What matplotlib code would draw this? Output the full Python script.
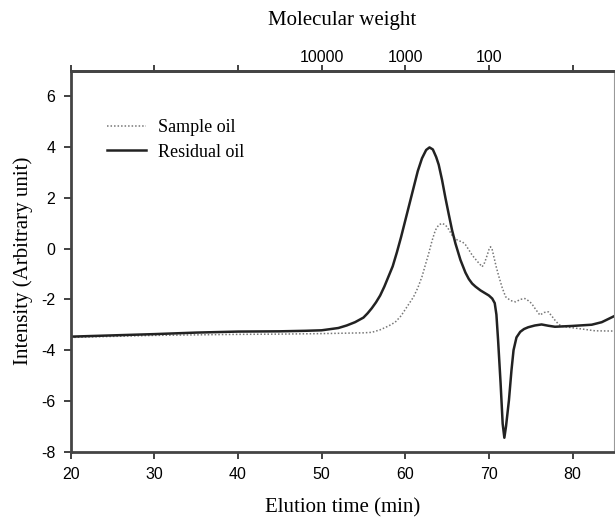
import numpy as np
import matplotlib
matplotlib.use('Agg')
import matplotlib.pyplot as plt

# elution time (min) and intensity
res_t = [20, 25, 30, 35, 40, 45, 48, 50, 52, 53, 54, 55, 55.5, 56, 56.5, 57,
         57.5, 58, 58.5, 59, 59.5, 60, 60.5, 61, 61.5, 62, 62.5, 62.9, 63.3,
         63.7, 64.0, 64.4, 64.8, 65.2, 65.6, 66.0, 66.6, 67.2, 67.6, 68.0, 68.4,
         69.0, 69.6, 70.0, 70.4, 70.7, 70.9, 71.1, 71.4, 71.65, 71.85, 72.05,
         72.4, 72.7, 72.95, 73.3, 73.75, 74.2, 74.7, 75.5, 76.3, 77.1, 77.9,
         79.9, 82.3, 83.5, 85]
res_v = [-3.47, -3.42, -3.37, -3.31, -3.27, -3.26, -3.24, -3.22, -3.13, -3.03,
         -2.9, -2.72, -2.55, -2.35, -2.12, -1.85, -1.5, -1.1, -0.7, -0.15, 0.45,
         1.1, 1.75, 2.4, 3.05, 3.55, 3.88, 3.98, 3.9, 3.6, 3.3, 2.7, 2.0, 1.35,
         0.72, 0.2, -0.45, -0.95, -1.2, -1.38, -1.5, -1.65, -1.77, -1.85, -1.97,
         -2.15, -2.6, -3.6, -5.3, -6.9, -7.45, -7.0, -5.97, -4.8, -4.0, -3.5,
         -3.28, -3.17, -3.1, -3.03, -2.99, -3.04, -3.08, -3.05, -3.0, -2.9, -2.66]

smp_t = [20, 25, 30, 35, 40, 45, 50, 55, 56, 57, 58, 58.8, 59.5, 60.2, 61.0,
         61.5, 62.0, 62.4, 62.8, 63.2, 63.6, 64.0, 64.4, 64.8, 65.2, 65.6, 66.0,
         66.4, 66.8, 67.2, 67.6, 68.0, 68.6, 69.2, 69.5, 69.8, 70.0, 70.2, 70.4,
         70.6, 70.9, 71.2, 71.6, 72.0, 72.6, 73.2, 73.8, 74.3, 74.7, 75.1, 75.6,
         76.1, 76.6, 77.1, 77.5, 77.9, 78.3, 78.7, 79.5, 80.7, 82.7, 85]
smp_v = [-3.5, -3.46, -3.42, -3.4, -3.38, -3.37, -3.35, -3.32, -3.3, -3.2,
         -3.05, -2.9, -2.65, -2.3, -1.9, -1.55, -1.11, -0.65, -0.2, 0.3, 0.72,
         0.93, 0.99, 0.93, 0.75, 0.52, 0.38, 0.3, 0.27, 0.15, -0.05, -0.26,
         -0.5, -0.72, -0.55, -0.26, -0.05, 0.07, -0.05, -0.33, -0.75, -1.11,
         -1.55, -1.9, -2.05, -2.1, -2.0, -1.97, -2.05, -2.16, -2.4, -2.62,
         -2.52, -2.49, -2.65, -2.82, -2.97, -3.06, -3.1, -3.15, -3.24, -3.25]

x_ticks = [20, 30, 40, 50, 60, 70, 80]
y_ticks = [-8, -6, -4, -2, 0, 2, 4, 6]
mw_labels = ['', '', '', '10000', '1000', '100', '']

serif = 'Liberation Serif'
sans = 'Liberation Sans'

fig = plt.figure(figsize=(6.15, 5.23), dpi=100)
ax = fig.add_axes([0.115, 0.1363, 0.8839, 0.7285])

ax.plot(smp_t, smp_v, color='#777777', lw=1.1, ls=(0, (1, 1.3)), label='Sample oil')
ax.plot(res_t, res_v, color='#222222', lw=1.8, label='Residual oil')

ax.set_xlim(20, 85)
ax.set_ylim(-8, 7)
ax.set_xticks(x_ticks)
ax.set_yticks(y_ticks)
ax.set_xticklabels([str(v) for v in x_ticks], fontfamily=sans, fontsize=11.5)
ax.set_yticklabels([str(v) for v in y_ticks], fontfamily=sans, fontsize=11.5)
ax.tick_params(direction='out', length=5, width=1.3, color='#333333', pad=6)

for side in ['left', 'bottom']:
    ax.spines[side].set_linewidth(2)
    ax.spines[side].set_color('#444444')
ax.spines['right'].set_linewidth(0.8)
ax.spines['right'].set_color('#999999')
ax.spines['top'].set_linewidth(2)
ax.spines['top'].set_color('#444444')

ax.set_xlabel('Elution time (min)', fontfamily=serif, fontsize=15, labelpad=12)
ax.set_ylabel('Intensity (Arbitrary unit)', fontfamily=serif, fontsize=15, labelpad=6)

ax2 = ax.twiny()
ax2.set_xlim(20, 85)
ax2.set_xticks(x_ticks)
ax2.set_xticklabels(mw_labels, fontfamily=sans, fontsize=11.5)
ax2.tick_params(direction='out', length=4, width=1.3, color='#333333', pad=0)
for side in ['left', 'bottom', 'right']:
    ax2.spines[side].set_visible(False)
ax2.spines['top'].set_linewidth(2)
ax2.spines['top'].set_color('#444444')
ax2.set_xlabel('Molecular weight', fontfamily=serif, fontsize=15, labelpad=18)

leg = ax.legend(loc='upper left', bbox_to_anchor=(0.066, 0.872), frameon=False,
                prop={'family': serif, 'size': 13}, handlelength=2.2,
                handletextpad=0.65, labelspacing=0.4, borderpad=0, borderaxespad=0)

fig.savefig('out.png', dpi=100)
